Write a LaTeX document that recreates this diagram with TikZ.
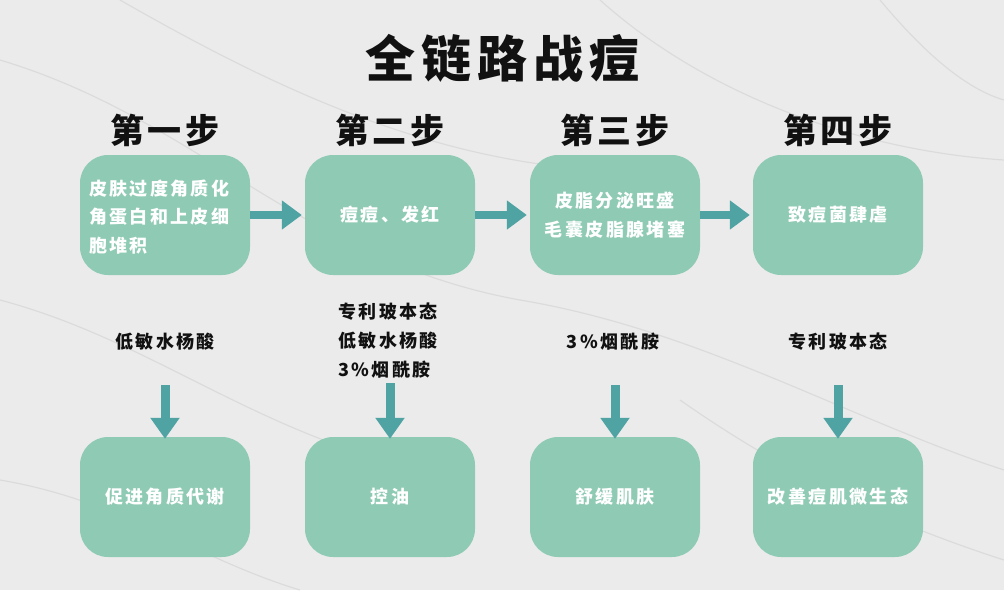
\documentclass[tikz,border=0pt]{standalone}
\usepackage{fontspec}
\usetikzlibrary{arrows.meta}
\newfontfamily\fTitle[LetterSpace=12]{Noto Sans CJK SC}
\newfontfamily\fStep[LetterSpace=10]{Noto Sans CJK SC}
\newfontfamily\fBody[LetterSpace=13]{Noto Sans CJK SC}
\definecolor{bgc}{HTML}{EBEBEB}
\definecolor{vein}{HTML}{CDCDCD}
\definecolor{boxc}{HTML}{8FCBB4}
\definecolor{arrc}{HTML}{4FA3A3}
\definecolor{inkc}{HTML}{111111}
\tikzset{
  stepbox/.style={fill=boxc, rounded corners=28pt, minimum width=170pt, minimum height=120pt, inner sep=0pt, text=white, font=\fBody\bfseries\fontsize{18}{28.5}\selectfont, align=center},
  steptitle/.style={text=inkc, font=\fStep\bfseries\fontsize{34}{40}\selectfont, inner sep=0pt},
  agent/.style={text=inkc, font=\fBody\bfseries\fontsize{18}{29}\selectfont, inner sep=0pt, align=left},
  harrow/.style={draw=arrc, line width=8pt, -{Triangle[width=28pt,length=20pt]}},
  varrow/.style={draw=arrc, line width=9pt, -{Triangle[width=28pt,length=21pt]}},
  veinline/.style={draw=vein, line width=1.2pt, opacity=0.5}
}
\begin{document}
\begin{tikzpicture}[x=1pt,y=-1pt]
\fill[bgc] (0,0) rectangle (1004,590);
\useasboundingbox (0,0) rectangle (1004,590);
% marble veins
\draw[veinline] (0,60) .. controls (200,120) and (300,260) .. (520,300);
\draw[veinline] (520,300) .. controls (700,330) and (850,420) .. (1004,470);
\draw[veinline] (120,0) .. controls (260,80) and (420,160) .. (600,170);
\draw[veinline] (0,300) .. controls (150,340) and (250,430) .. (420,470);
\draw[veinline] (600,0) .. controls (700,90) and (850,150) .. (1004,160);
\draw[veinline] (0,480) .. controls (120,500) and (200,560) .. (300,590);
\draw[veinline] (680,400) .. controls (780,470) and (880,520) .. (1004,560);
\draw[veinline] (880,0) .. controls (930,60) and (970,90) .. (1004,100);

\node[text=inkc, font=\fTitle\bfseries\fontsize{50}{56}\selectfont, inner sep=0pt] (title) at (502,58) {全链路战痘};

\node[steptitle] (s1) at (165,130) {第一步};
\node[steptitle] (s2) at (390,130) {第二步};
\node[steptitle] (s3) at (615,130) {第三步};
\node[steptitle] (s4) at (838,130) {第四步};

\node[stepbox] (p1) at (165,215) {};
\node[text=white, font=\fBody\bfseries\fontsize{18}{28.5}\selectfont, align=left, inner sep=0pt, anchor=west] (p1t) at (89,217) {皮肤过度角质化\\角蛋白和上皮细\\胞堆积};
\node[stepbox] (p2) at (390,215) {痘痘、发红};
\node[stepbox] (p3) at (615,215) {皮脂分泌旺盛\\毛囊皮脂腺堵塞};
\node[stepbox] (p4) at (838,215) {致痘菌肆虐};

\node[agent] (a1) at (165,342) {低敏水杨酸};
\node[agent] (a2) at (388,341) {专利玻本态\\低敏水杨酸\\3\%烟酰胺};
\node[agent] (a3) at (613,342) {3\%烟酰胺};
\node[agent] (a4) at (838,342) {专利玻本态};

\node[stepbox] (r1) at (165,497) {促进角质代谢};
\node[stepbox] (r2) at (390,497) {控油};
\node[stepbox] (r3) at (615,497) {舒缓肌肤};
\node[stepbox] (r4) at (838,497) {改善痘肌微生态};

\draw[harrow] (p1.east) -- ([xshift=-3pt]p2.west);
\draw[harrow] (p2.east) -- ([xshift=-3pt]p3.west);
\draw[harrow] (p3.east) -- ([xshift=-3pt]p4.west);

\coordinate (v1) at (165,385);
\coordinate (v2) at (390,383);
\coordinate (v3) at (615,385);
\coordinate (v4) at (838,385);
\draw[varrow] (v1) -- ([yshift=-2pt]r1.north);
\draw[varrow] (v2) -- ([yshift=-2pt]r2.north);
\draw[varrow] (v3) -- ([yshift=-2pt]r3.north);
\draw[varrow] (v4) -- ([yshift=-2pt]r4.north);
\end{tikzpicture}
\end{document}
